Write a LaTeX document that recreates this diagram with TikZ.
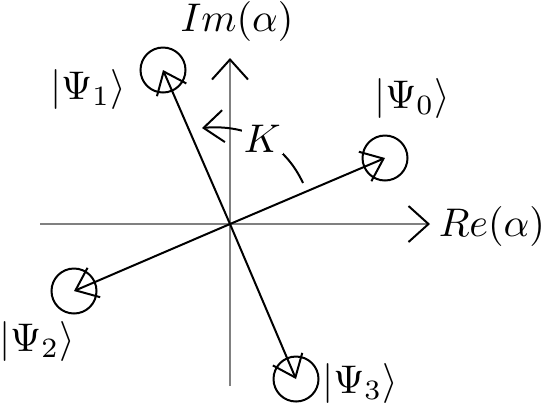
\documentclass[tikz,border=0pt]{standalone}
\usetikzlibrary{arrows.meta}

\begin{document}
\begin{tikzpicture}[
    x=0.25pt, y=-0.25pt,
    axis/.style={
        draw=black!50,
        line width=0.5pt,
        -{Straight Barb[length=5pt,width=9pt,color=black]}
    },
    vec/.style={
        draw=black,
        line width=0.5pt,
        -{Straight Barb[length=5pt,width=8pt]}
    },
    state/.style={
        circle,
        draw=black,
        line width=0.5pt,
        minimum size=11.25pt,
        inner sep=0pt
    },
    lbl/.style={
        inner sep=1pt
    }
]

\useasboundingbox (0,0) rectangle (545,410);

% =========================================================
% EJES
% =========================================================

\coordinate (origin) at (230,224);
\coordinate (reend) at (430,224);
\coordinate (restart) at (40,224);
\coordinate (imend) at (230,58);
\coordinate (imstart) at (230,386);

\draw[axis] (restart) -- (reend);
\draw[axis] (imstart) -- (imend);

\node[lbl, anchor=west] (relabel) at (434,226) {$Re(\alpha)$};
\node[lbl] (imlabel) at (237,21) {$Im(\alpha)$};

% =========================================================
% ESTADOS
% =========================================================

\node[state] (psi0) at (385,158) {};
\node[state] (psi1) at (163,70) {};
\node[state] (psi2) at (74,291) {};
\node[state] (psi3) at (296,379) {};

\node[lbl] (psi0label) at (412,98) {$|\Psi_0\rangle$};
\node[lbl] (psi1label) at (88,89) {$|\Psi_1\rangle$};
\node[lbl] (psi2label) at (37,341) {$|\Psi_2\rangle$};
\node[lbl] (psi3label) at (360,383) {$|\Psi_3\rangle$};

% =========================================================
% FLECHAS
% =========================================================

\draw[vec] (origin) -- (psi0.center);
\draw[vec] (origin) -- (psi1.center);
\draw[vec] (origin) -- (psi2.center);
\draw[vec] (origin) -- (psi3.center);

% rotación K
\coordinate (kstart) at (303,183);
\coordinate (kend) at (202,128);
\draw[vec] (kstart) to[out=115, in=5]
    node[fill=white, inner sep=0.5pt] (klabel) {$K$} (kend);

\end{tikzpicture}
\end{document}
